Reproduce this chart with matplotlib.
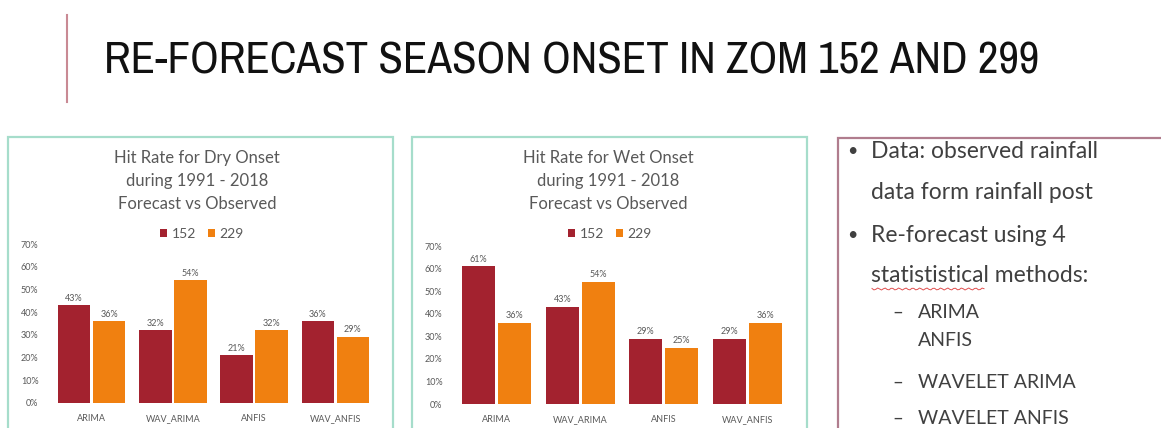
import matplotlib
matplotlib.use("Agg")
import matplotlib.pyplot as plt
from matplotlib.patches import Rectangle
from matplotlib.lines import Line2D
from matplotlib import font_manager
import numpy as np

# ---------------- data ----------------
methods = ["ARIMA", "WAV_ARIMA", "ANFIS", "WAV_ANFIS"]
series_names = ["152", "229"]
dry_152 = [0.43, 0.32, 0.21, 0.36]
dry_229 = [0.36, 0.54, 0.32, 0.29]
wet_152 = [0.61, 0.43, 0.29, 0.29]
wet_229 = [0.36, 0.54, 0.25, 0.36]
y_ticks = [0.0, 0.1, 0.2, 0.3, 0.4, 0.5, 0.6, 0.7]
dry_title = "Hit Rate for Dry Onset\nduring 1991 - 2018\nForecast vs Observed"
wet_title = "Hit Rate for Wet Onset\nduring 1991 - 2018\nForecast vs Observed"
slide_title = "RE-FORECAST SEASON ONSET IN ZOM 152 AND 299"
bullets = [
    ("bullet", "Data: observed rainfall"),
    ("cont", "data form rainfall post"),
    ("bullet", "Re-forecast using 4"),
    ("cont", "statististical methods:"),
    ("dash", "ARIMA"),
    ("subcont", "ANFIS"),
    ("dash", "WAVELET ARIMA"),
    ("dash", "WAVELET ANFIS"),
]

C152 = "#A3222F"
C229 = "#F08010"
GREY = "#595959"
FONT = "Lato"

# find a narrow / condensed font for the slide title if one is installed
title_font = None
for f in font_manager.fontManager.ttflist:
    nm = f.name.lower()
    if ("narrow" in nm or "condensed" in nm) and "bold" not in f.fname.lower() and "italic" not in f.fname.lower():
        title_font = f
        break
if title_font is None:
    for f in font_manager.fontManager.ttflist:
        st = str(f.stretch).lower()
        if st in ("condensed", "semi-condensed", "extra-condensed") or (st.isdigit() and int(st) < 500):
            title_font = f
            break

W, H = 1161, 428
fig = plt.figure(figsize=(W / 100, H / 100), dpi=100)
fig.patch.set_facecolor("white")


def fx(px):
    return px / W


def fy(py):
    return 1 - py / H


# slide title and accent line
fig.add_artist(Line2D([fx(67), fx(67)], [fy(15), fy(102)], color="#C98A94", lw=1.5))
if title_font is not None:
    tkw = dict(fontproperties=font_manager.FontProperties(fname=title_font.fname))
else:
    tkw = dict(family="DejaVu Sans")
ttl = fig.text(fx(104), fy(61), slide_title, color="#111111", va="center", ha="left", **tkw)
ttl.set_fontsize(36)
renderer = fig.canvas.get_renderer()
wpx = ttl.get_window_extent(renderer).width
ttl.set_fontsize(36 * 936 / wpx)

# frames
fig.add_artist(Rectangle((fx(8), fy(440)), fx(393 - 8), (440 - 137) / H,
                         fill=False, ec="#A6DDCB", lw=1.6, transform=fig.transFigure))
fig.add_artist(Rectangle((fx(412), fy(440)), fx(807 - 412), (440 - 137) / H,
                         fill=False, ec="#A6DDCB", lw=1.6, transform=fig.transFigure))
fig.add_artist(Rectangle((fx(838), fy(440)), fx(1175 - 838), (440 - 138) / H,
                         fill=False, ec="#B07D8E", lw=1.6, transform=fig.transFigure))


def chart(x0, x1, y0, y1, v152, v229, title, title_cx, legend_cx):
    ax = fig.add_axes([fx(x0), fy(y0), fx(x1 - x0), (y0 - y1) / H])
    x = np.arange(len(methods))
    w = 0.4
    b1 = ax.bar(x - 0.215, v152, w, color=C152, label=series_names[0])
    b2 = ax.bar(x + 0.215, v229, w, color=C229, label=series_names[1])
    for bars, vals in ((b1, v152), (b2, v229)):
        for r, v in zip(bars, vals):
            ax.text(r.get_x() + r.get_width() / 2, v + 0.012, f"{round(v*100)}%",
                    ha="center", va="bottom", fontsize=6.5, color=GREY, family=FONT)
    ax.set_xlim(-0.5, len(methods) - 0.5)
    ax.set_ylim(0, 0.7)
    ax.set_yticks(y_ticks)
    ax.set_yticklabels([f"{int(round(t*100))}%" for t in y_ticks])
    ax.set_xticks(x)
    ax.set_xticklabels(methods)
    for s in ax.spines.values():
        s.set_visible(False)
    ax.tick_params(length=0, labelsize=6.5, labelcolor=GREY, pad=9)
    ax.tick_params(axis="x", pad=8)
    for lab in ax.get_xticklabels() + ax.get_yticklabels():
        lab.set_family(FONT)
    ax.patch.set_alpha(0)
    fig.text(fx(title_cx), fy(181), title, ha="center", va="center", fontsize=12,
             color=GREY, family=FONT, linespacing=1.55)
    leg = fig.legend(handles=[b1, b2], loc="center", bbox_to_anchor=(fx(legend_cx), fy(234)),
                     ncol=2, frameon=False, fontsize=10, handlelength=0.5, handleheight=0.5,
                     handletextpad=0.3, columnspacing=0.9, borderaxespad=0)
    for t in leg.get_texts():
        t.set_color(GREY)
        t.set_family(FONT)
    return ax


chart(51, 376, 403, 244, dry_152, dry_229, dry_title, 197, 202)
chart(455, 789, 404, 246, wet_152, wet_229, wet_title, 608, 610)

# bullet text box
TXT = "#404040"
line_y = [151, 192, 235, 275, 312, 340, 382, 418]
for (kind, txt), yy in zip(bullets, line_y):
    if kind == "bullet":
        fig.text(fx(847), fy(yy), "\u2022", fontsize=13, color=TXT, va="center", family=FONT)
        fig.text(fx(871), fy(yy), txt, fontsize=16.5, color=TXT, va="center", family=FONT)
    elif kind == "cont":
        fig.text(fx(871), fy(yy), txt, fontsize=16.5, color=TXT, va="center", family=FONT)
    elif kind == "dash":
        fig.text(fx(892), fy(yy), "\u2013", fontsize=13.5, color=TXT, va="center", family=FONT)
        fig.text(fx(918), fy(yy), txt, fontsize=14, color=TXT, va="center", family=FONT)
    else:
        fig.text(fx(918), fy(yy), txt, fontsize=14, color=TXT, va="center", family=FONT)

# spelling underline under "statististical"
xs = np.linspace(872, 984, 60)
fig.add_artist(Line2D(fx(xs), fy(289 + 1.0 * np.sin(xs * 0.9)), color="#E05050", lw=0.7))

fig.savefig("out.png", dpi=100)
